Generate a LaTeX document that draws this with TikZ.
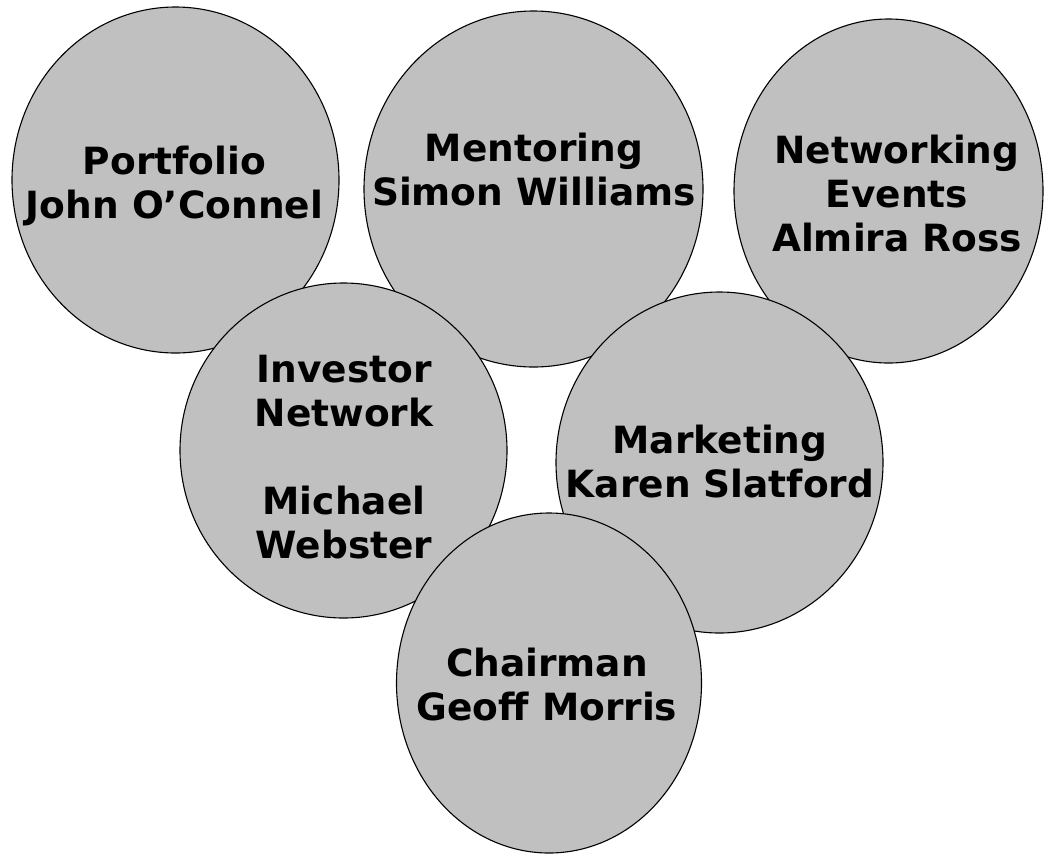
\documentclass[tikz,border=0pt]{standalone}
\usepackage{fontspec}
\setmainfont{DejaVu Sans}
\usetikzlibrary{shapes.geometric}
\definecolor{bubble}{HTML}{C0C0C0}
\tikzset{
  bub/.style={ellipse, draw=black, fill=bubble, line width=1.1pt, inner sep=0pt},
  lbl/.style={align=center, anchor=base, inner sep=0pt, font=\bfseries\fontsize{37.5}{44}\selectfont}
}
\begin{document}
\begin{tikzpicture}[x=1pt,y=-1pt]
\useasboundingbox (0,0) rectangle (1044,855);
% ellipses: center (cx,cy), 2rx, 2ry
\node[bub, minimum width=327pt, minimum height=346pt] (portfolio) at (175.5,180) {};
\node[bub, minimum width=339pt, minimum height=356pt] (mentoring) at (533.5,189) {};
\node[bub, minimum width=309pt, minimum height=344pt] (networking) at (888.5,191) {};
\node[bub, minimum width=327pt, minimum height=335pt] (investor) at (343.5,450.5) {};
\node[bub, minimum width=327pt, minimum height=341pt] (marketing) at (719.5,462.5) {};
\node[bub, minimum width=305pt, minimum height=340pt] (chairman) at (549,683) {};
% labels (anchored at the baseline of their last line)
\node[lbl] (tportfolio) at (174.5,218) {Portfolio\\John O’Connel};
\node[lbl] (tmentoring) at (534,205) {Mentoring\\Simon Williams};
\node[lbl] (tnetworking) at (897,251) {Networking\\Events\\Almira Ross};
\node[lbl] (tinvestor) at (344,558) {Investor\\Network\\[44pt]Michael\\Webster};
\node[lbl] (tmarketing) at (720,497) {Marketing\\Karen Slatford};
\node[lbl] (tchairman) at (547,720) {Chairman\\Geoff Morris};
\end{tikzpicture}
\end{document}
